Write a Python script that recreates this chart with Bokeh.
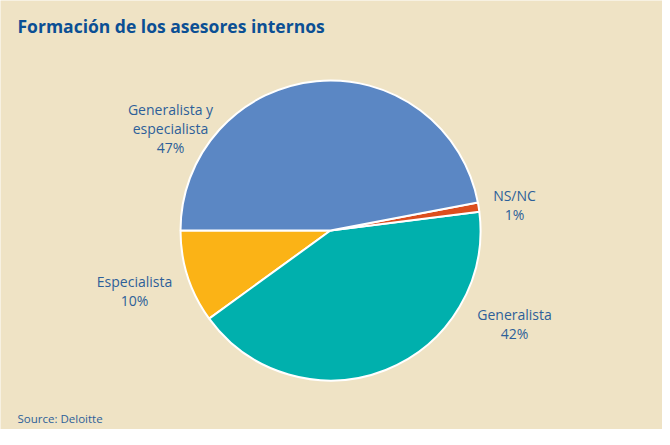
import numpy as np
from bokeh.plotting import figure
from bokeh.models import Range1d, ColumnDataSource
from bokeh.core.properties import value
from bokeh.embed import file_html
from bokeh.resources import INLINE

# ---- data ----
categories = ["Especialista", "Generalista", "NS/NC", "Generalista y\nespecialista"]
percentages = [10, 42, 1, 47]
colors = ["#fbb316", "#00b0ad", "#dc4e1e", "#5b87c4"]

# ---- layout ----
W, H = 662, 429
cx, cy, R = 330, 199, 150
start = np.pi  # first slice starts at 9 o'clock, going anticlockwise
# label anchor points (figure pixels)
label_x = [134, 514, 514, 170]
label_y = [139, 106, 225, 301]

frac = np.array(percentages) / sum(percentages)
ends = start + 2 * np.pi * np.cumsum(frac)
starts = np.concatenate([[start], ends[:-1]])

src = ColumnDataSource(dict(
    start=starts, end=ends, color=colors,
    label=[f"{c}\n{p}%" for c, p in zip(categories, percentages)],
    lx=label_x, ly=label_y,
))

bg = "#efe3c5"
p = figure(width=W, height=H, x_range=Range1d(0, W), y_range=Range1d(0, H),
           output_backend="svg", toolbar_location=None, min_border=0,
           background_fill_color=bg, border_fill_color=bg, outline_line_color=None)
p.axis.visible = False
p.grid.visible = False

p.wedge(x=cx, y=cy, radius=R, start_angle="start", end_angle="end",
        fill_color="color", line_color="white", line_width=2, source=src)

p.text(x="lx", y="ly", text="label", source=src, text_align="center",
       text_baseline="middle", text_font=value("Open Sans"), text_font_size="14px",
       text_color="#2d5f99", text_line_height=1.0)

p.text(x=[17], y=[H - 25], text=["Formación de los asesores internos"],
       text_font=value("Open Sans"), text_font_style="bold", text_font_size="17.5px",
       text_color="#0b4f94", text_baseline="middle")
p.text(x=[17], y=[H - 418], text=["Source: Deloitte"],
       text_font=value("Open Sans"), text_font_size="11.5px",
       text_color="#2d5f99", text_baseline="middle")

open("out.html", "w").write(file_html(p, INLINE))
